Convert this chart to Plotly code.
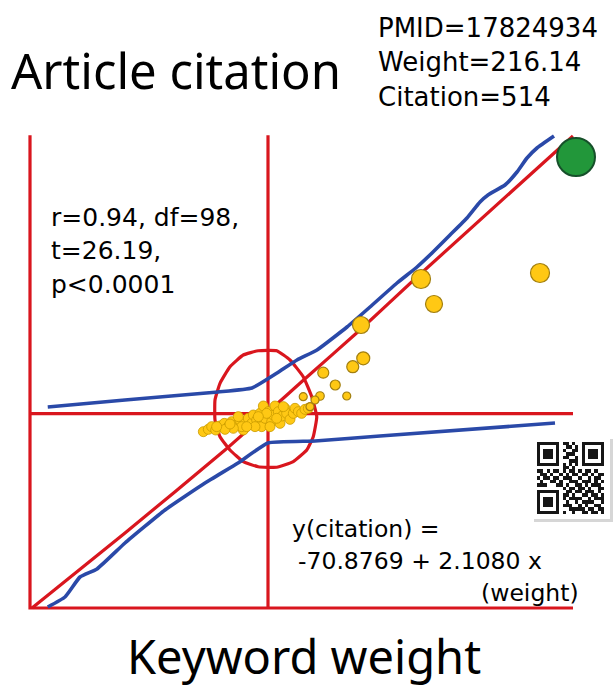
import plotly.graph_objects as go

# ---------------- data ----------------
# keyword weight (x) and article citation (y), schematic units
axis_w = [-0.8, -0.8, 216.4]
axis_c = [591, 0, 0]
mean_w = 94.4
mean_c = 243
top_c = 591
right_w = 216.4

reg_w = [0, 37.2, 77.2, 110, 131.2, 154, 216.4]
reg_c = [0, 93.75, 197.5, 288.75, 347.5, 413.75, 590]

upper_w = [6.3, 37.2, 74.4, 88, 98, 106, 114, 126, 135.2, 146, 154, 160.4, 167.2,
           174, 179.2, 182.4, 189.2, 194, 198, 202, 208.8]
upper_c = [251.25, 260, 270, 275, 293.75, 310, 322.5, 351.25, 376.25, 406.25, 426.25,
           445, 466.25, 487.5, 507.5, 516.25, 528.75, 545, 562.5, 575, 590]

lower_w = [6.3, 13.2, 19.2, 26, 37.2, 53.2, 69.2, 82.4, 94.4, 113.2, 139.2, 209.2]
lower_c = [1.25, 13.75, 38.75, 48.75, 81.25, 122.5, 156.25, 181.25, 206.25, 208.75, 215, 231.25]

ellipse_w = [90.5, 97.9, 103.2, 108.5, 111.9, 113.9, 112.5, 109.9, 104.5, 97.9, 90.5,
             84.5, 79.2, 75.2, 73.2, 73.2, 75.2, 79.2, 84.5, 90.5]
ellipse_c = [321.6, 321.6, 310, 289.1, 264.1, 239.1, 214.1, 197.5, 182.9, 175.9, 176.6,
             182.9, 197.5, 214.1, 235, 260, 280.9, 301.6, 316.25, 321.6]

# articles (yellow): outliers with their bubble sizes
big_w = [203.2, 155.6, 160.8, 131.6, 132.5, 128.3, 116.5, 121.3, 125.9, 115.2, 108.5, 113.2, 111.2]
big_c = [418.75, 411.25, 380, 353.75, 312.1, 301.6, 294.1, 278.75, 265, 265, 264.1, 260, 251.6]
big_s = [19, 19, 17, 17, 13, 12, 11, 10, 8, 8.5, 8, 8, 8]

# articles (yellow): dense cluster around the means
clu_w = [68.53, 70.53, 71.87, 73.47, 75.2, 76.93, 78.53, 79.87, 81.87, 83.2, 84.53, 85.2,
         86.53, 87.87, 88.53, 89.87, 91.2, 91.87, 92.53, 93.2, 94.53, 95.87, 96.53, 97.2,
         98.53, 99.2, 100.13, 101.2, 101.87, 103.2, 104.53, 105.2, 106.53, 107.87, 109.2,
         110.53, 83.87, 80.53, 77.2, 73.87, 89.2, 85.87, 93.87, 90.53, 97.87, 95.2, 100.53,
         82.53, 79.2]
clu_c = [220.4, 223.3, 226.7, 222.5, 227.5, 230.8, 226.7, 232.9, 228.75, 235, 222.5, 231.7,
         237.1, 230.8, 241.25, 235, 243.3, 226.7, 252.5, 237.1, 245.4, 232.9, 241.25, 252.5,
         245.4, 230.8, 240, 249.6, 243.3, 235.8, 243.3, 249.6, 245.4, 243.3, 248.3, 249.6,
         226.7, 224.6, 223.3, 226.7, 226.7, 226.7, 243.3, 239.2, 237.1, 226.7, 251.7, 239.2, 230]

# highlighted article
top_w = [217.6]
top_c_pt = [563.75]

title_text = "Article citation"
info_lines = ["PMID=17824934", "Weight=216.14", "Citation=514"]
stat_lines = ["r=0.94, df=98,", "t=26.19,", "p<0.0001"]
eq_lines = ["y(citation) =", "-70.8769 + 2.1080 x", "(weight)"]
xlabel_text = "Keyword weight"

qr_rows = [
    "111111101101001111111",
    "100000100110101000001",
    "101110101001101011101",
    "101110100111001011101",
    "101110101100101011101",
    "100000100011101000001",
    "111111101010101111111",
    "000000001101000000000",
    "110101101011010110100",
    "011010010101101101011",
    "101101101110010010110",
    "010011010011101110101",
    "111000110100110101110",
    "000000001011011010011",
    "111111100110110111010",
    "100000101101001101101",
    "101110101011110010111",
    "101110100100101111001",
    "101110101110010100110",
    "100000100011111011011",
    "111111101001001101101",
]

# ---------------- figure ----------------
RED = "#D9161E"
BLUE = "#2A49A8"
YELLOW = "#FFC814"
SANS = "Noto Sans"
WIDE = "DejaVu Sans"

fig = go.Figure()

def line(xs, ys, color, width, smooth=True):
    ln = dict(color=color, width=width)
    if smooth:
        ln.update(shape="spline", smoothing=0.4)
    fig.add_trace(go.Scatter(x=xs, y=ys, mode="lines", hoverinfo="skip",
                             line=ln, showlegend=False))

line(axis_w, axis_c, RED, 3.2, smooth=False)
line([mean_w, mean_w], [0, top_c], RED, 3.2, smooth=False)
line([-0.8, right_w], [mean_c, mean_c], RED, 3.2, smooth=False)
line(ellipse_w, ellipse_c, RED, 3.2)
line(reg_w, reg_c, RED, 3.2)
line(upper_w, upper_c, BLUE, 3.6)
line(lower_w, lower_c, BLUE, 3.6)

fig.add_trace(go.Scatter(x=clu_w, y=clu_c, mode="markers", showlegend=False,
                         marker=dict(size=10, color=YELLOW, opacity=1,
                                     line=dict(color="#C99A00", width=0.8))))
fig.add_trace(go.Scatter(x=big_w, y=big_c, mode="markers", showlegend=False,
                         marker=dict(size=big_s, color=YELLOW, opacity=1,
                                     line=dict(color="#A27F10", width=1.2))))
fig.add_trace(go.Scatter(x=top_w, y=top_c_pt, mode="markers", showlegend=False,
                         marker=dict(size=38, color="#22973A", opacity=1,
                                     line=dict(color="#16502A", width=2))))

qr_z = [[int(ch) for ch in row] for row in qr_rows]
fig.add_trace(go.Heatmap(z=qr_z, xaxis="x2", yaxis="y2", showscale=False, hoverinfo="skip",
                         colorscale=[[0, "white"], [1, "#161616"]], zmin=0, zmax=1))

W, H = 615, 690
def px(x):
    return x / W
def py(y):
    return 1 - y / H

ann = []
ann.append(dict(text=title_text, x=px(9), y=py(70), xanchor="left", yanchor="middle",
                font=dict(size=49, color="black", family=SANS)))
for i, t in enumerate(info_lines):
    ann.append(dict(text=t, x=px(376), y=py(28 + 34.5 * i), xanchor="left", yanchor="middle",
                    font=dict(size=26, color="black", family=WIDE)))
for i, t in enumerate(stat_lines):
    ann.append(dict(text=t, x=px(49), y=py(217.5 + 33.5 * i), xanchor="left", yanchor="middle",
                    font=dict(size=25, color="black", family=WIDE)))
ann.append(dict(text=eq_lines[0], x=px(290), y=py(529), xanchor="left", yanchor="middle",
                font=dict(size=23.5, color="black", family=WIDE)))
ann.append(dict(text=eq_lines[1], x=px(296), y=py(561), xanchor="left", yanchor="middle",
                font=dict(size=23.5, color="black", family=WIDE)))
ann.append(dict(text=eq_lines[2], x=px(581), y=py(593), xanchor="right", yanchor="middle",
                font=dict(size=23.5, color="black", family=WIDE)))
ann.append(dict(text=xlabel_text, x=px(304), y=py(656), xanchor="center", yanchor="middle",
                font=dict(size=47, color="black", family=SANS)))
for a in ann:
    a.update(xref="paper", yref="paper", showarrow=False)

shapes = [
    dict(type="rect", xref="paper", yref="paper", x0=px(534), x1=px(613), y0=py(522), y1=py(439),
         fillcolor="#D6D6D6", line=dict(width=0), layer="below"),
    dict(type="rect", xref="paper", yref="paper", x0=px(531), x1=px(610), y0=py(519), y1=py(436),
         fillcolor="white", line=dict(width=0), layer="below"),
]

fig.update_layout(
    width=W, height=H, margin=dict(l=0, r=0, t=0, b=0),
    paper_bgcolor="white", plot_bgcolor="rgba(0,0,0,0)",
    xaxis=dict(range=[-12.8, 233.2], visible=False, domain=[0, 1]),
    yaxis=dict(range=[-102.5, 760], visible=False, domain=[0, 1]),
    xaxis2=dict(domain=[px(537), px(604)], anchor="y2", visible=False, range=[-0.5, 20.5]),
    yaxis2=dict(domain=[py(514), py(442)], anchor="x2", visible=False, range=[20.5, -0.5]),
    annotations=ann, shapes=shapes, showlegend=False,
)

fig.write_html("out.html", config={"displayModeBar": False},
               post_script="document.body.style.margin='0';document.body.style.padding='0';")
